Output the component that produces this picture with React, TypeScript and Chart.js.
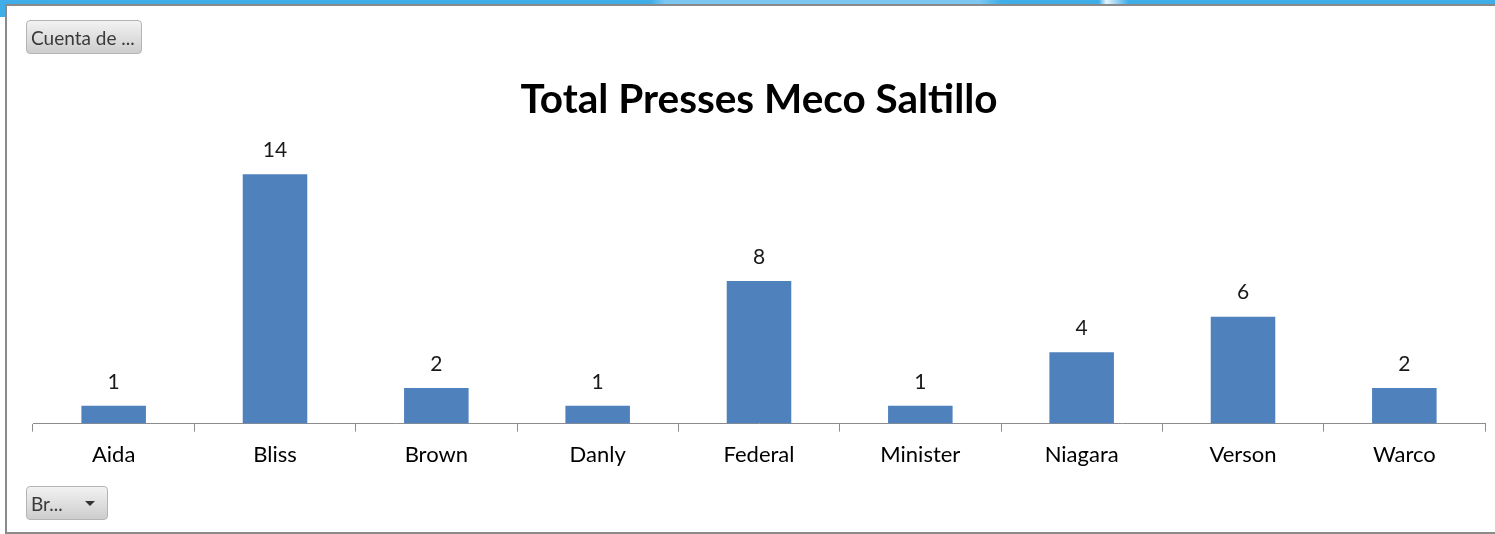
import React, { useEffect, useRef } from "react";
import { Chart, registerables } from "chart.js";

Chart.register(...registerables);

const categories = ["Aida", "Bliss", "Brown", "Danly", "Federal", "Minister", "Niagara", "Verson", "Warco"];
const counts = [1, 14, 2, 1, 8, 1, 4, 6, 2];
const chartTitle = "Total Presses Meco Saltillo";
const seriesName = "Cuenta de Brand";
const fieldButton = "Cuenta de ...";
const axisButton = "Br...";

const FONT = "Lato, 'Open Sans', sans-serif";

const dataLabelPlugin = {
  id: "dataLabels",
  afterDatasetsDraw(chart: any) {
    const ctx = chart.ctx;
    const meta = chart.getDatasetMeta(0);
    ctx.save();
    ctx.font = `21px ${FONT}`;
    ctx.fillStyle = "#1a1a1a";
    ctx.textAlign = "center";
    ctx.textBaseline = "middle";
    meta.data.forEach((bar: any, i: number) => {
      ctx.fillText(String(chart.data.datasets[0].data[i]), bar.x, bar.y - 24);
    });
    ctx.restore();
  },
};

function ChartCanvas() {
  const ref = useRef<HTMLCanvasElement | null>(null);
  useEffect(() => {
    if (!ref.current) return;
    const chart = new Chart(ref.current, {
      type: "bar",
      data: {
        labels: categories,
        datasets: [
          {
            label: seriesName,
            data: counts,
            backgroundColor: "#4F81BD",
            borderWidth: 0,
            categoryPercentage: 1,
            barPercentage: 0.4,
          },
        ],
      },
      options: {
        animation: false,
        responsive: false,
        maintainAspectRatio: false,
        layout: { padding: { left: 25, right: 10, top: 0, bottom: 53 } },
        plugins: {
          legend: { display: false },
          tooltip: { enabled: false },
          title: {
            display: true,
            text: chartTitle,
            color: "#000",
            font: { family: FONT, size: 40.5, weight: "bold" },
            padding: { top: 70, bottom: 14 },
          },
        },
        scales: {
          x: {
            grid: {
              offset: true,
              drawOnChartArea: false,
              drawTicks: true,
              tickLength: 8,
              color: "#8c8c8c",
            },
            border: { display: true, color: "#8c8c8c", width: 1 },
            ticks: { color: "#000", font: { family: FONT, size: 22 }, padding: 10 },
          },
          y: {
            display: false,
            min: 0,
            max: 16,
          },
        },
      },
      plugins: [dataLabelPlugin],
    });
    return () => chart.destroy();
  }, []);
  return <canvas ref={ref} width={1487} height={525} style={{ position: "absolute", left: 8, top: 6, width: 1487, height: 525 }} />;
}

const btnStyle: React.CSSProperties = {
  position: "absolute",
  left: 26,
  height: 34,
  boxSizing: "border-box",
  border: "1px solid #b4b4b4",
  borderRadius: 4,
  background: "linear-gradient(#f2f2f2, #cdcdcd)",
  color: "#3a3a3a",
  fontFamily: FONT,
  fontSize: 19,
  display: "flex",
  alignItems: "center",
  paddingLeft: 4,
  whiteSpace: "nowrap",
};

export default function App() {
  return (
    <div style={{ position: "fixed", left: 0, top: 0, width: 1495, height: 534, background: "#fff", overflow: "hidden" }}>
      <div style={{ position: "absolute", left: 0, top: 0, width: 1495, height: 4, background: "linear-gradient(90deg, #3fade8 0%, #3fade8 43.5%, #7cc7f1 44.5%, #7cc7f1 65.5%, #3fade8 67%, #3fade8 73.5%, #e8f4fb 74%, #3fade8 75.5%, #3fade8 100%)" }} />
      <div style={{ position: "absolute", left: 0, top: 0, width: 44, height: 4, background: "#3fade8", borderBottomRightRadius: 30 }} />
      <div style={{ position: "absolute", left: 0, top: 0, width: 5, height: 17, background: "#3fade8" }} />
      <div style={{ position: "absolute", left: 5, top: 4, width: 1500, height: 530, boxSizing: "border-box", border: "2px solid #8a8a8a", borderRight: "none", background: "#fff" }} />
      <ChartCanvas />
      <div style={{ ...btnStyle, top: 20, width: 116 }}>{fieldButton}</div>
      <div style={{ ...btnStyle, top: 486, width: 82 }}>
        <span>{axisButton}</span>
        <span
          style={{
            display: "inline-block",
            width: 0,
            height: 0,
            marginLeft: 22,
            borderLeft: "5px solid transparent",
            borderRight: "5px solid transparent",
            borderTop: "5px solid #333",
          }}
        />
      </div>
    </div>
  );
}
